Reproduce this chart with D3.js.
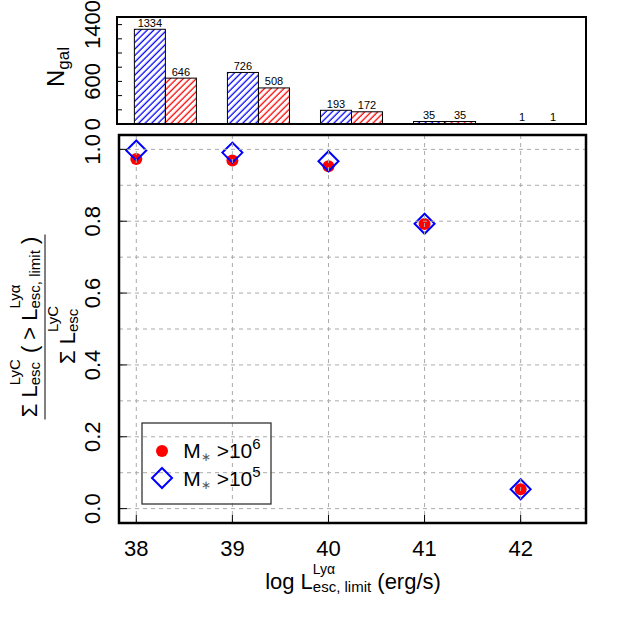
<!DOCTYPE html>
<html>
<head>
<meta charset="utf-8">
<style>
  body { margin: 0; background: #fff; }
  svg text { font-family: "Liberation Sans", Arial, sans-serif; white-space: pre; }
</style>
</head>
<body>
<div id="chart"></div>
<script src="https://d3js.org/d3.v7.min.js"></script>
<script>
// data
var lumLimits = [38, 39, 40, 41, 42];
var frac6 = [0.973, 0.969, 0.953, 0.792, 0.054];   // M* > 10^6 (red dots)
var frac5 = [0.997, 0.991, 0.967, 0.793, 0.054];   // M* > 10^5 (blue diamonds)
var ngal5 = [1334, 726, 193, 35, 1];               // blue hatched bars
var ngal6 = [646, 508, 172, 35, 1];                // red hatched bars
var xTicks = [38, 39, 40, 41, 42];
var yTicks = [0, 0.2, 0.4, 0.6, 0.8, 1.0];
var yGrid = d3.range(0, 11).map(function(d) { return d / 10; });
var nTicks = d3.range(0, 8).map(function(d) { return d * 200; });
var nLabels = [0, 600, 1400];

var W = 623, H = 623;
var svg = d3.select("#chart").append("svg")
    .attr("width", W)
    .attr("height", H);
svg.append("rect").attr("width", W).attr("height", H).attr("fill", "#fff");

// hatch patterns
var defs = svg.append("defs");
function hatch(id, color) {
    var p = defs.append("pattern")
        .attr("id", id)
        .attr("patternUnits", "userSpaceOnUse")
        .attr("width", 4.6)
        .attr("height", 10)
        .attr("patternTransform", "rotate(45)");
    p.append("line")
        .attr("x1", 1.2).attr("x2", 1.2)
        .attr("y1", 0).attr("y2", 10)
        .attr("stroke", color)
        .attr("stroke-width", 1.3);
}
hatch("hatchBlue", "#0000ff");
hatch("hatchRed", "#ff0000");

// small helper for text with super/subscripts
function mathText(parent, pieces) {
    var g = parent.append("g");
    var x = 0;
    pieces.forEach(function(p) {
        if (p.stack) {
            var w = 0;
            p.stack.forEach(function(q) {
                var t = g.append("text").attr("x", x).attr("y", q.dy)
                    .attr("font-size", q.s).text(q.t);
                w = Math.max(w, t.node().getComputedTextLength());
            });
            x += w;
        } else {
            var t = g.append("text").attr("x", x).attr("y", p.dy || 0)
                .attr("font-size", p.s).attr("fill", p.fill || "#000").text(p.t);
            x += t.node().getComputedTextLength();
        }
    });
    g.attr("transform", "translate(" + (-x / 2) + ",0)");
    return g;
}

// ---------- top panel: number of galaxies ----------
var barBox = { l: 117, r: 586, t: 17, b: 124 };
var xb = d3.scaleLinear().domain([0.44, 15.56]).range([barBox.l, barBox.r]);
var yb = d3.scaleLinear().domain([0, 1507]).range([barBox.b, barBox.t]);

var barData = [];
ngal5.forEach(function(v, i) {
    barData.push({ x0: 1 + 3 * i, x1: 2 + 3 * i, v: v, fill: "url(#hatchBlue)" });
    barData.push({ x0: 2 + 3 * i, x1: 3 + 3 * i, v: ngal6[i], fill: "url(#hatchRed)" });
});

svg.append("g").selectAll("rect")
    .data(barData)
    .enter()
    .append("rect")
    .attr("x", function(d) { return xb(d.x0); })
    .attr("y", function(d) { return yb(d.v); })
    .attr("width", function(d) { return xb(d.x1) - xb(d.x0); })
    .attr("height", function(d) { return yb(0) - yb(d.v); })
    .attr("fill", function(d) { return d.fill; })
    .attr("stroke", "#000")
    .attr("stroke-width", 1);

svg.append("g").selectAll("text")
    .data(barData)
    .enter()
    .append("text")
    .attr("x", function(d) { return (xb(d.x0) + xb(d.x1)) / 2; })
    .attr("y", function(d) { return yb(d.v) - 2.5; })
    .attr("text-anchor", "middle")
    .attr("font-size", 11)
    .text(function(d) { return d.v; });

// left axis of top panel (ticks inward)
svg.append("g").selectAll("line")
    .data(nTicks)
    .enter()
    .append("line")
    .attr("x1", barBox.l).attr("x2", barBox.l + 5)
    .attr("y1", function(d) { return yb(d); })
    .attr("y2", function(d) { return yb(d); })
    .attr("stroke", "#000");

svg.append("g").selectAll("text")
    .data(nLabels)
    .enter()
    .append("text")
    .attr("transform", function(d) { return "translate(100," + yb(d) + ") rotate(-90)"; })
    .attr("text-anchor", "middle")
    .attr("font-size", 22)
    .text(function(d) { return d; });

svg.append("rect")
    .attr("x", barBox.l).attr("y", barBox.t)
    .attr("width", barBox.r - barBox.l).attr("height", barBox.b - barBox.t)
    .attr("fill", "none").attr("stroke", "#000").attr("stroke-width", 2);

var ngalTitle = svg.append("g").attr("transform", "translate(64,67) rotate(-90)");
mathText(ngalTitle, [
    { t: "N", s: 24 },
    { t: "gal", s: 17, dy: 5 }
]);

// ---------- main panel: escape fraction ----------
var plotBox = { l: 119, r: 586, t: 135, b: 523 };
var x = d3.scaleLinear().domain([37.82, 42.68]).range([plotBox.l, plotBox.r]);
var y = d3.scaleLinear().domain([-0.04, 1.04]).range([plotBox.b, plotBox.t]);

var pts = lumLimits.map(function(d, i) { return { x: d, f6: frac6[i], f5: frac5[i] }; });

svg.append("g").selectAll("circle")
    .data(pts)
    .enter()
    .append("circle")
    .attr("cx", function(d) { return x(d.x); })
    .attr("cy", function(d) { return y(d.f6); })
    .attr("r", 6)
    .attr("fill", "#ff0000");

var diamond = function(cx, cy, r) {
    return "M" + cx + "," + (cy - r) + "L" + (cx + r) + "," + cy +
        "L" + cx + "," + (cy + r) + "L" + (cx - r) + "," + cy + "Z";
};

svg.append("g").selectAll("path")
    .data(pts)
    .enter()
    .append("path")
    .attr("d", function(d) { return diamond(x(d.x), y(d.f5), 10); })
    .attr("fill", "none")
    .attr("stroke", "#0000ff")
    .attr("stroke-width", 2);

// grid (drawn over the points, like the original)
var grid = svg.append("g")
    .attr("stroke", "#aaa")
    .attr("stroke-width", 1)
    .attr("stroke-dasharray", "4,4");
grid.selectAll("line.h")
    .data(yGrid)
    .enter()
    .append("line")
    .attr("class", "h")
    .attr("x1", plotBox.l).attr("x2", plotBox.r)
    .attr("y1", function(d) { return y(d); })
    .attr("y2", function(d) { return y(d); });
grid.selectAll("line.v")
    .data(xTicks)
    .enter()
    .append("line")
    .attr("class", "v")
    .attr("y1", plotBox.t).attr("y2", plotBox.b)
    .attr("x1", function(d) { return x(d); })
    .attr("x2", function(d) { return x(d); });

// inward ticks
svg.append("g").selectAll("line")
    .data(yTicks)
    .enter()
    .append("line")
    .attr("x1", plotBox.l).attr("x2", plotBox.l + 8)
    .attr("y1", function(d) { return y(d); })
    .attr("y2", function(d) { return y(d); })
    .attr("stroke", "#000");
svg.append("g").selectAll("line")
    .data(xTicks)
    .enter()
    .append("line")
    .attr("y1", plotBox.b).attr("y2", plotBox.b - 8)
    .attr("x1", function(d) { return x(d); })
    .attr("x2", function(d) { return x(d); })
    .attr("stroke", "#000");

// tick labels
svg.append("g").selectAll("text")
    .data(yTicks)
    .enter()
    .append("text")
    .attr("transform", function(d) { return "translate(100," + y(d) + ") rotate(-90)"; })
    .attr("text-anchor", "middle")
    .attr("font-size", 22)
    .text(function(d) { return d3.format(".1f")(d); });
svg.append("g").selectAll("text")
    .data(xTicks)
    .enter()
    .append("text")
    .attr("x", function(d) { return x(d); })
    .attr("y", 556)
    .attr("text-anchor", "middle")
    .attr("font-size", 22)
    .text(function(d) { return d; });

svg.append("rect")
    .attr("x", plotBox.l).attr("y", plotBox.t)
    .attr("width", plotBox.r - plotBox.l).attr("height", plotBox.b - plotBox.t)
    .attr("fill", "none").attr("stroke", "#000").attr("stroke-width", 2.5);

// legend
var leg = svg.append("g");
leg.append("rect")
    .attr("x", 142).attr("y", 423).attr("width", 129).attr("height", 81)
    .attr("fill", "none").attr("stroke", "#333").attr("stroke-width", 1.3);
leg.append("circle").attr("cx", 162).attr("cy", 451).attr("r", 6).attr("fill", "#ff0000");
leg.append("path").attr("d", diamond(162, 478, 10))
    .attr("fill", "none").attr("stroke", "#0000ff").attr("stroke-width", 2);
var legRows = [{ y: 458, p: "6" }, { y: 486, p: "5" }];
legRows.forEach(function(r) {
    var row = leg.append("g").attr("transform", "translate(222," + r.y + ")");
    mathText(row, [
        { t: "M", s: 21 },
        { t: "\u2217", s: 12, dy: 3, fill: "#555" },
        { t: " >10", s: 21 },
        { t: r.p, s: 15, dy: -9 }
    ]);
});

// x axis title
var xTitle = svg.append("g").attr("transform", "translate(353,589)");
mathText(xTitle, [
    { t: "log L", s: 22 },
    { stack: [{ t: "Ly\u03b1", s: 14, dy: -15 }, { t: "esc, limit", s: 15, dy: 3 }] },
    { t: " (erg/s)", s: 22 }
]);

// y axis title: a fraction
var yTitle = svg.append("g").attr("transform", "translate(45,327) rotate(-90)");
yTitle.append("line")
    .attr("x1", -92.5).attr("x2", 92.5)
    .attr("y1", 0).attr("y2", 0)
    .attr("stroke", "#000").attr("stroke-width", 1);
var num = yTitle.append("g").attr("transform", "translate(0,-8)");
mathText(num, [
    { t: "\u03a3 ", s: 22 },
    { t: "L", s: 22 },
    { stack: [{ t: "LyC", s: 15, dy: -17 }, { t: "esc", s: 15, dy: 3 }] },
    { t: " ( > ", s: 22 },
    { t: "L", s: 22 },
    { stack: [{ t: "Ly\u03b1", s: 15, dy: -17 }, { t: "esc, limit", s: 15, dy: 3 }] },
    { t: " )", s: 22 }
]);
var den = yTitle.append("g").attr("transform", "translate(-8,30)");
mathText(den, [
    { t: "\u03a3 ", s: 22 },
    { t: "L", s: 22 },
    { stack: [{ t: "LyC", s: 15, dy: -17 }, { t: "esc", s: 15, dy: 3 }] }
]);
</script>
</body>
</html>
